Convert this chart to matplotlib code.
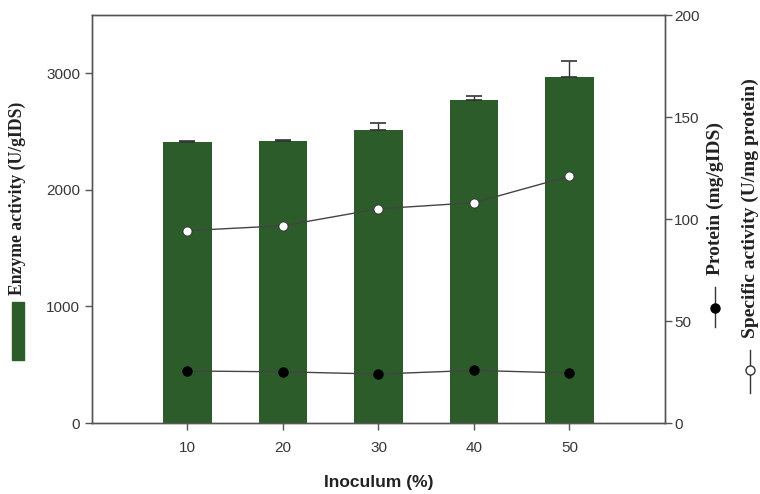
import numpy as np
import matplotlib
matplotlib.use("Agg")
import matplotlib.pyplot as plt
from matplotlib.lines import Line2D
from matplotlib.patches import Rectangle

# data
inoculum = [10, 20, 30, 40, 50]
enzyme_activity = [2407, 2416, 2511, 2769, 2964]
enzyme_err = [10, 10, 66, 37, 143]
specific_activity = [94.3, 96.7, 105.0, 108.0, 121.0]
protein = [25.5, 25.1, 24.0, 25.8, 24.5]

green = '#2b5c2a'
axis_col = '#555555'
tick_col = '#383838'
sans = ['Liberation Sans', 'DejaVu Sans']
serif = ['Liberation Serif', 'DejaVu Serif']

fig = plt.figure(figsize=(7.6, 4.94), dpi=100)
ax = fig.add_axes([0.121, 0.1437, 0.754, 0.8259])

ax.bar(inoculum, enzyme_activity, width=5.1, color=green, zorder=2)
ax.errorbar(inoculum, enzyme_activity, yerr=[np.zeros(5), enzyme_err],
            fmt='none', ecolor='#333333', elinewidth=1, capsize=6, capthick=1.2, zorder=3)
ax.set_xlim(0, 60)
ax.set_ylim(0, 3500)
ax.set_xticks(inoculum)
ax.set_yticks([0, 1000, 2000, 3000])

ax2 = ax.twinx()
ax2.set_ylim(0, 200)
ax2.set_yticks([0, 50, 100, 150, 200])
ax2.plot(inoculum, specific_activity, color='#444444', lw=1, marker='o', ms=6.5,
         mfc='white', mec='#333333', mew=0.6, zorder=4)
ax2.plot(inoculum, protein, color='#444444', lw=1, marker='o', ms=6.5,
         mfc='black', mec='black', zorder=4)

for a in (ax, ax2):
    for s in a.spines.values():
        s.set_color(axis_col)
        s.set_linewidth(1)
    a.tick_params(direction='out', length=5, width=1, color=axis_col,
                  labelsize=11, labelcolor=tick_col)
    for lab in a.get_xticklabels() + a.get_yticklabels():
        lab.set_family(sans)
ax.tick_params(axis='x', pad=8)
ax2.tick_params(axis='y', pad=1.5)

ax.set_xlabel('Inoculum (%)', fontsize=12.5, fontweight='bold', family=sans, labelpad=14,
              color='#222222')

# left axis label with bar legend patch
fig.text(0.023, 0.599, 'Enzyme activity (U/gIDS)', rotation=90, ha='center', va='center',
         fontsize=12.7, fontweight='bold', family=serif, color='#222222')
fig.patches.append(Rectangle((0.016, 0.271), 0.016, 0.118, transform=fig.transFigure,
                             color=green, figure=fig))

# right axis labels with line/marker symbols
fig.text(0.941, 0.598, 'Protein (mg/gIDS)', rotation=90, ha='center', va='center',
         fontsize=14, fontweight='bold', family=serif, color='#222222')
fig.lines.append(Line2D([0.941, 0.941], [0.338, 0.419], transform=fig.transFigure,
                        color='#333333', lw=1))
fig.lines.append(Line2D([0.941], [0.376], transform=fig.transFigure, marker='o', ms=6.5,
                        mfc='black', mec='black', lw=0))

fig.text(0.987, 0.578, 'Specific activity (U/mg protein)', rotation=90, ha='center', va='center',
         fontsize=14, fontweight='bold', family=serif, color='#222222')
fig.lines.append(Line2D([0.987, 0.987], [0.204, 0.291], transform=fig.transFigure,
                        color='#333333', lw=1))
fig.lines.append(Line2D([0.987], [0.251], transform=fig.transFigure, marker='o', ms=6.5,
                        mfc='white', mec='#333333', lw=0))

fig.savefig('out.png', dpi=100)
